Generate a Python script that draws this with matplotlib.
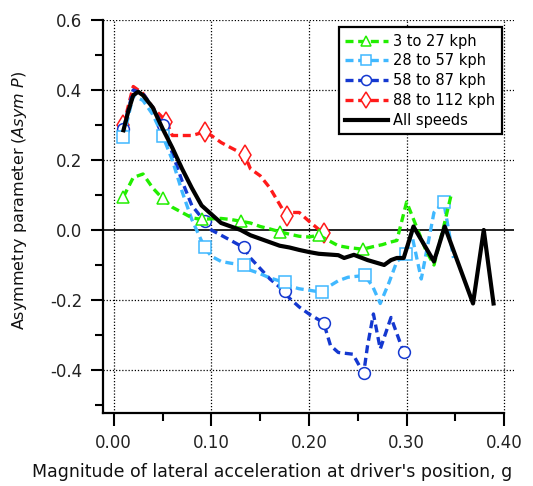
import matplotlib
matplotlib.use("Agg")
import matplotlib.pyplot as plt
from matplotlib.ticker import MultipleLocator

plt.rcParams['axes.unicode_minus'] = False
plt.rcParams['font.family'] = 'DejaVu Sans'

# 3 to 27 kph
green_x = [0.01, 0.02, 0.03, 0.04, 0.05, 0.06, 0.07, 0.08, 0.09, 0.10,
           0.11, 0.12, 0.13, 0.14, 0.15, 0.16, 0.17, 0.18, 0.19, 0.20,
           0.21, 0.22, 0.23, 0.24, 0.255, 0.265, 0.275, 0.283, 0.29,
           0.30, 0.31, 0.32, 0.328, 0.338, 0.346]
green_y = [0.095, 0.15, 0.16, 0.12, 0.09, 0.065, 0.05, 0.035, 0.03, 0.032,
           0.033, 0.03, 0.025, 0.02, 0.01, 0.003, -0.005, -0.012, -0.018, -0.02,
           -0.015, -0.03, -0.045, -0.05, -0.055, -0.048, -0.042, -0.035, -0.03,
           0.08, 0.01, -0.06, -0.10, 0.01, 0.105]
green_marks = [0, 4, 8, 12, 16, 20, 24]

# 28 to 57 kph
lblue_x = [0.01, 0.02, 0.03, 0.04, 0.05, 0.06, 0.07, 0.08, 0.093, 0.10,
           0.11, 0.12, 0.133, 0.14, 0.15, 0.16, 0.175, 0.18, 0.19, 0.20,
           0.213, 0.22, 0.23, 0.24, 0.257, 0.265, 0.273, 0.282, 0.29, 0.299,
           0.305, 0.315, 0.328, 0.338, 0.348]
lblue_y = [0.265, 0.385, 0.37, 0.33, 0.27, 0.20, 0.11, 0.03, -0.05, -0.075,
           -0.09, -0.095, -0.10, -0.115, -0.125, -0.137, -0.15, -0.16, -0.168, -0.172,
           -0.178, -0.162, -0.145, -0.135, -0.13, -0.16, -0.21, -0.15, -0.09, -0.07,
           -0.01, -0.14, 0.05, 0.08, -0.08]
lblue_marks = [0, 4, 8, 12, 16, 20, 24, 29, 33]

# 58 to 87 kph
dblue_x = [0.01, 0.02, 0.03, 0.04, 0.05, 0.06, 0.07, 0.08, 0.093, 0.10,
           0.11, 0.12, 0.133, 0.14, 0.15, 0.16, 0.175, 0.18, 0.19, 0.20,
           0.215, 0.222, 0.23, 0.245, 0.256, 0.26, 0.266, 0.273, 0.284, 0.297]
dblue_y = [0.29, 0.40, 0.39, 0.35, 0.30, 0.22, 0.14, 0.07, 0.025, 0.0,
           -0.015, -0.03, -0.05, -0.08, -0.11, -0.14, -0.175, -0.195, -0.22, -0.24,
           -0.265, -0.33, -0.35, -0.355, -0.41, -0.33, -0.24, -0.34, -0.25, -0.35]
dblue_marks = [0, 4, 8, 12, 16, 20, 24, 29]

# 88 to 112 kph
red_x = [0.01, 0.02, 0.03, 0.04, 0.054, 0.06, 0.07, 0.08, 0.093, 0.10,
         0.11, 0.12, 0.134, 0.14, 0.15, 0.16, 0.177, 0.18, 0.19, 0.20, 0.215]
red_y = [0.30, 0.41, 0.39, 0.35, 0.31, 0.27, 0.27, 0.27, 0.28, 0.27,
         0.25, 0.235, 0.215, 0.175, 0.155, 0.12, 0.04, 0.05, 0.05, 0.025, -0.01]
red_marks = [0, 4, 8, 12, 16, 20]

# all speeds
all_x = [0.01, 0.015, 0.02, 0.025, 0.03, 0.04, 0.05, 0.06, 0.07, 0.08,
         0.09, 0.10, 0.11, 0.12, 0.13, 0.14, 0.15, 0.16, 0.17, 0.18,
         0.19, 0.20, 0.21, 0.22, 0.23, 0.236, 0.246, 0.26, 0.277, 0.284,
         0.29, 0.297, 0.307, 0.328, 0.339, 0.368, 0.379, 0.389]
all_y = [0.285, 0.34, 0.385, 0.395, 0.385, 0.35, 0.29, 0.235, 0.175, 0.12,
         0.07, 0.045, 0.02, 0.01, 0.0, -0.015, -0.025, -0.035, -0.045, -0.05,
         -0.057, -0.063, -0.068, -0.07, -0.072, -0.08, -0.071, -0.086, -0.10, -0.086,
         -0.08, -0.08, 0.01, -0.09, 0.01, -0.21, 0.0, -0.21]

labels = ['3 to 27 kph', '28 to 57 kph', '58 to 87 kph', '88 to 112 kph', 'All speeds']

fig = plt.figure(figsize=(5.33, 4.86), dpi=100)
ax = fig.add_axes([0.1932, 0.1502, 0.7712, 0.8086])

common = dict(lw=2.4, dashes=(2.4, 1.4), markerfacecolor='white', markeredgewidth=1.1)

l_red, = ax.plot(red_x, red_y, color='#ff1a1a', marker='d', markersize=10,
                 markevery=red_marks, markeredgecolor='#ff1a1a', **common)
l_db, = ax.plot(dblue_x, dblue_y, color='#1438d0', marker='o', markersize=8.5,
                markevery=dblue_marks, markeredgecolor='#1438d0', **common)
l_lb, = ax.plot(lblue_x, lblue_y, color='#40b8ff', marker='s', markersize=8.5,
                markevery=lblue_marks, markeredgecolor='#40b8ff', **common)
l_gr, = ax.plot(green_x, green_y, color='#22ee00', marker='^', markersize=8.5,
                markevery=green_marks, markeredgecolor='#22ee00', **common)
l_all, = ax.plot(all_x, all_y, color='black', lw=3.0)

ax.axhline(0, color='black', lw=1.2, zorder=1)

ax.set_xlim(-0.011, 0.41)
ax.set_ylim(-0.523, 0.6)
ax.xaxis.set_minor_locator(MultipleLocator(0.05))
ax.yaxis.set_minor_locator(MultipleLocator(0.1))
ax.set_xticks([0.0, 0.1, 0.2, 0.3, 0.4])
ax.set_xticklabels(['0.00', '0.10', '0.20', '0.30', '0.40'])
ax.set_yticks([-0.4, -0.2, 0.0, 0.2, 0.4, 0.6])
ax.set_yticklabels(['-0.4', '-0.2', '0.0', '0.2', '0.4', '0.6'])

for v in [0.0, 0.1, 0.2, 0.3, 0.4]:
    ax.axvline(v, color='black', lw=0.9, ls=(0, (1, 1.5)), zorder=0)
for v in [-0.4, -0.2, 0.2, 0.4, 0.6]:
    ax.axhline(v, color='black', lw=0.9, ls=(0, (1, 1.5)), zorder=0)

for s in ['top', 'right']:
    ax.spines[s].set_visible(False)
for s in ['left', 'bottom']:
    ax.spines[s].set_linewidth(1.6)
ax.spines['bottom'].set_bounds(-0.011, 0.40)

ax.tick_params(which='major', length=9, width=1.5, labelsize=12, pad=6, labelcolor='#222222')
ax.tick_params(which='minor', length=6, width=1.5)

ax.set_xlabel("Magnitude of lateral acceleration at driver's position, g", fontsize=12.5,
              color='#111111')
ax.xaxis.set_label_coords(0.411, -0.127)
ax.set_ylabel(r'Asymmetry parameter ($\mathit{Asym\ P}$)', fontsize=11.5, color='#111111')
ax.yaxis.set_label_coords(-0.18, 0.54)

leg = ax.legend([l_gr, l_lb, l_db, l_red, l_all], labels, loc='upper right',
                bbox_to_anchor=(0.971, 0.982), fontsize=10.5, frameon=True, fancybox=False,
                framealpha=1, edgecolor='black', handlelength=2.9, labelspacing=0.33,
                borderpad=0.45, handletextpad=0.4, borderaxespad=0, markerscale=0.85)
leg.get_frame().set_linewidth(1.6)
for lh in leg.get_lines():
    lh.set_markevery([1])

fig.savefig('out.png', dpi=100)
